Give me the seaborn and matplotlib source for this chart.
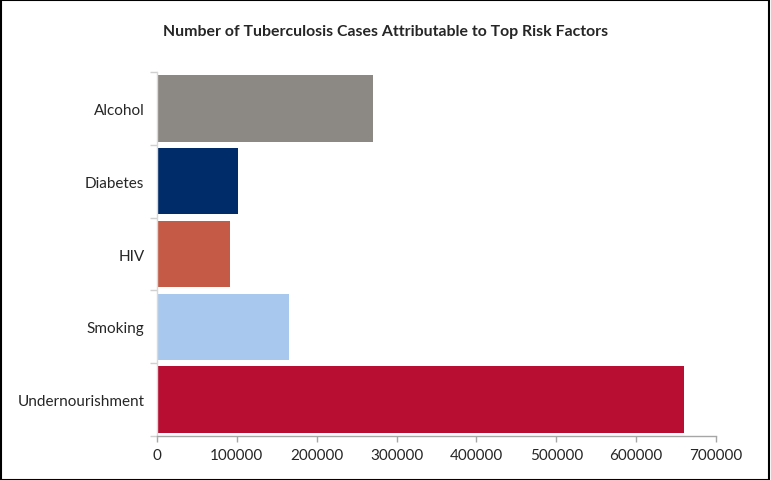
import matplotlib

matplotlib.use("Agg")
import matplotlib.pyplot as plt
import numpy as np
import pandas as pd
import seaborn as sns
from matplotlib.patches import Rectangle

sns.set_theme(style="white")
plt.rcParams["font.family"] = ["Lato", "DejaVu Sans"]

# ----------------------------------------------------------------------
# Data
# ----------------------------------------------------------------------
factors = ["Alcohol", "Diabetes", "HIV", "Smoking", "Undernourishment"]
cases = [270000, 102000, 91000, 165000, 660000]
colors = ["#8c8984", "#002d6a", "#c55a46", "#a8c8ee", "#b80e31"]
xticks = [0, 100000, 200000, 300000, 400000, 500000, 600000, 700000]

df = pd.DataFrame({"factor": factors, "cases": cases})

fig = plt.figure(figsize=(7.71, 4.81), dpi=100)
ax = fig.add_axes([0.2036, 0.0915, 0.725, 0.7567])

sns.barplot(
    data=df,
    x="cases",
    y="factor",
    hue="factor",
    palette=colors,
    saturation=1,
    orient="h",
    width=0.91,
    legend=False,
    linewidth=0,
    ax=ax,
)

ax.set_xlim(0, 700000)
ax.set_ylim(4.5, -0.5)
ax.set_xticks(xticks)
ax.set_xticklabels([str(t) for t in xticks], fontsize=11)
ax.set_xlabel("")
ax.set_ylabel("")
ax.tick_params(axis="y", which="major", left=False, length=0, labelsize=11, pad=9)
ax.set_yticks(np.arange(-0.5, len(factors)), minor=True)
ax.tick_params(axis="y", which="minor", left=True, length=5, color="#d0d0d0", width=1)
ax.tick_params(axis="x", bottom=True, length=4, color="#a6a6a6", width=1,
               direction="out", pad=5)

for side in ["top", "right"]:
    ax.spines[side].set_visible(False)
ax.spines["left"].set_color("#d9d9d9")
ax.spines["bottom"].set_color("#a6a6a6")
ax.spines["left"].set_linewidth(1)
ax.spines["bottom"].set_linewidth(1)

fig.text(
    0.5, 0.933,
    "Number of Tuberculosis Cases Attributable to Top Risk Factors",
    ha="center", va="center", fontsize=11.4, fontweight="bold",
)

# outer frame
fig.patches.append(
    Rectangle((0.001, 0.001), 0.997, 0.997, transform=fig.transFigure,
              fill=False, edgecolor="black", linewidth=1.5)
)

fig.savefig("out.png", dpi=100)
